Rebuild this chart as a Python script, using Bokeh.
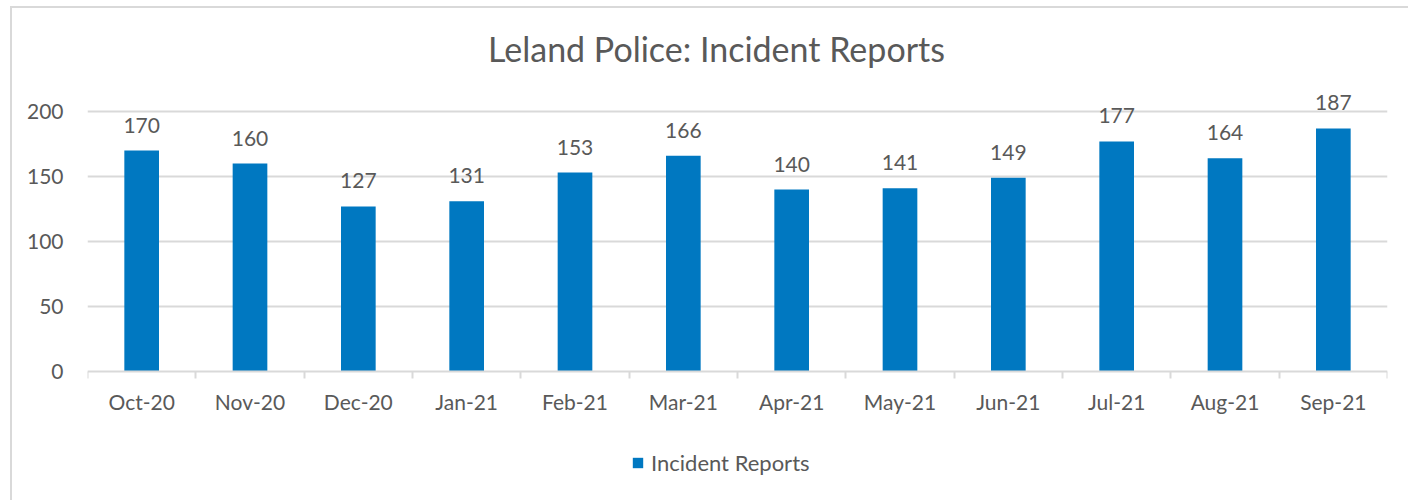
from bokeh.plotting import figure
from bokeh.models import (ColumnDataSource, FixedTicker, LabelSet, Label, Legend,
                          LegendItem, Range1d)
from bokeh.embed import file_html
from bokeh.resources import INLINE
from bokeh.core.properties import value

months = ["Oct-20", "Nov-20", "Dec-20", "Jan-21", "Feb-21", "Mar-21",
          "Apr-21", "May-21", "Jun-21", "Jul-21", "Aug-21", "Sep-21"]
reports = [170, 160, 127, 131, 153, 166, 140, 141, 149, 177, 164, 187]
y_ticks = [0, 50, 100, 150, 200]

FONT = "Lato"
TXT = "#595959"
GRID = "#D9D9D9"
BAR = "#0078C1"

centers = [i + 0.5 for i in range(len(months))]
src = ColumnDataSource(dict(x=centers, y=reports, lab=[str(v) for v in reports]))

# frame covers the whole canvas height; the x axis is pinned at y=0
p = figure(width=1398, height=552, output_backend="svg", toolbar_location=None,
           x_range=Range1d(0, len(months)), y_range=Range1d(-129 / 1.3, 363 / 1.3),
           min_border_left=75, min_border_right=23, min_border_top=0,
           min_border_bottom=60)
p.styles = {"margin-left": "10px", "margin-top": "6px", "margin-bottom": "-60px",
            "border-left": f"2px solid {GRID}", "border-top": f"2px solid {GRID}"}
p.outline_line_color = None
p.background_fill_color = "white"
p.border_fill_color = "white"

r = p.vbar(x="x", top="y", width=0.32, source=src, fill_color=BAR, line_color=None)

# x axis: labels at centres, small ticks at category boundaries
xt = FixedTicker(ticks=centers, minor_ticks=list(range(len(months) + 1)))
p.xaxis.ticker = xt
p.xaxis.fixed_location = 0
p.xaxis.major_label_overrides = {c: m for c, m in zip(centers, months)}
p.xaxis.major_tick_line_color = None
p.xaxis.minor_tick_line_color = GRID
p.xaxis.minor_tick_line_width = 2
p.xaxis.minor_tick_out = 7
p.xaxis.minor_tick_in = 0
p.xaxis.axis_line_color = GRID
p.xaxis.axis_line_width = 2
p.xaxis.major_label_standoff = 10
p.xaxis.major_label_text_font = FONT
p.xaxis.major_label_text_font_size = "21px"
p.xaxis.major_label_text_color = TXT

p.yaxis.ticker = FixedTicker(ticks=y_ticks)
p.yaxis.axis_line_color = None
p.yaxis.major_tick_line_color = None
p.yaxis.major_tick_out = 0
p.yaxis.major_tick_in = 0
p.yaxis.minor_tick_line_color = None
p.yaxis.major_label_standoff = 24
p.yaxis.major_label_text_font = FONT
p.yaxis.major_label_text_font_size = "21px"
p.yaxis.major_label_text_color = TXT

p.xgrid.grid_line_color = None
p.ygrid.ticker = FixedTicker(ticks=y_ticks[1:])
p.ygrid.grid_line_color = GRID
p.ygrid.grid_line_width = 2

labels = LabelSet(x="x", y="y", text="lab", source=src, text_align="center",
                  text_baseline="alphabetic", y_offset=18,
                  text_font=value(FONT), text_font_size="21px", text_color=TXT)
p.add_layout(labels)

title = Label(x=629, y=452, x_units="screen", y_units="screen",
              text="Leland Police: Incident Reports", text_align="center",
              text_baseline="alphabetic", text_font=FONT,
              text_font_size="34px", text_color=TXT)
p.add_layout(title)

legend = Legend(items=[LegendItem(label="Incident Reports", renderers=[r])],
                location=(544, 24), orientation="horizontal",
                glyph_width=13, glyph_height=13, padding=5, margin=0,
                label_text_font=FONT, label_text_font_size="22px",
                label_text_color=TXT, label_standoff=7,
                border_line_color=None, background_fill_alpha=0)
p.add_layout(legend, "center")

open("out.html", "w").write(file_html(p, INLINE))
